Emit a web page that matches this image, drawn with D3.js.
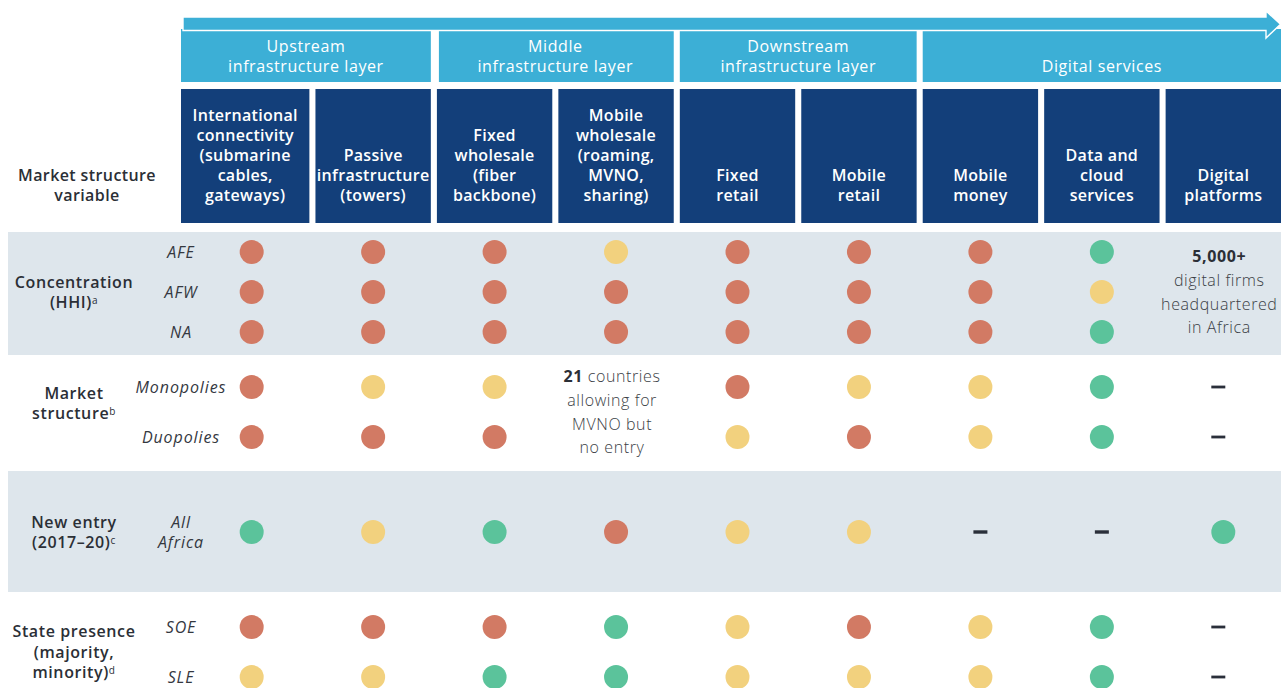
<!DOCTYPE html>
<html>
<head>
<meta charset="utf-8">
<script src="https://cdn.jsdelivr.net/npm/d3@7"></script>
<style>
  html, body { margin: 0; padding: 0; background: #fff; }
  svg { display: block; font-family: "Open Sans", "Noto Sans", sans-serif; }
</style>
</head>
<body>
<svg id="chart" width="1281" height="688"></svg>
<script>
// ---------- DATA ----------
const columnIds = ["intl", "passive", "fixedWh", "mobileWh", "fixedRet", "mobileRet", "money", "cloud", "platforms"];
const columnLabels = [
  ["International", "connectivity", "(submarine", "cables,", "gateways)"],
  ["Passive", "infrastructure", "(towers)"],
  ["Fixed", "wholesale", "(fiber", "backbone)"],
  ["Mobile", "wholesale", "(roaming,", "MVNO,", "sharing)"],
  ["Fixed", "retail"],
  ["Mobile", "retail"],
  ["Mobile", "money"],
  ["Data and", "cloud", "services"],
  ["Digital", "platforms"]
];
const layerLabels = [
  ["Upstream", "infrastructure layer"],
  ["Middle", "infrastructure layer"],
  ["Downstream", "infrastructure layer"],
  ["Digital services"]
];
const layerFirstCol = [0, 2, 4, 6];
const layerLastCol = [1, 3, 5, 8];

const headerLabel = ["Market structure", "variable"];
const groupIds = ["conc", "struct", "entry", "state"];
const groupLabels = [
  [["Concentration", ""], ["(HHI)", "a"]],
  [["Market", ""], ["structure", "b"]],
  [["New entry", ""], ["(2017–20)", "c"]],
  [["State presence", ""], ["(majority,", ""], ["minority)", "d"]]
];
const groupShaded = [true, false, true, false];

const rowIds = ["AFE", "AFW", "NA", "Mono", "Duo", "All", "SOE", "SLE"];
const rowGroup = ["conc", "conc", "conc", "struct", "struct", "entry", "state", "state"];
const rowLabels = [["AFE"], ["AFW"], ["NA"], ["Monopolies"], ["Duopolies"], ["All", "Africa"], ["SOE"], ["SLE"]];
// H = red, M = yellow, L = green, "-" = dash, "T" = covered by a text note
const rowValues = [
  ["H", "H", "H", "M", "H", "H", "H", "L", "T"],
  ["H", "H", "H", "H", "H", "H", "H", "M", "T"],
  ["H", "H", "H", "H", "H", "H", "H", "L", "T"],
  ["H", "M", "M", "T", "H", "M", "M", "L", "-"],
  ["H", "H", "H", "T", "M", "H", "M", "L", "-"],
  ["L", "M", "L", "H", "M", "M", "-", "-", "L"],
  ["H", "H", "H", "L", "M", "H", "M", "L", "-"],
  ["M", "M", "L", "L", "M", "M", "M", "L", "-"]
];
const levels = ["H", "M", "L"];
const levelColors = ["#d27a64", "#f2d17e", "#5bc39b"];

const notes = [
  { col: "mobileWh", rows: ["Mono", "Duo"], lines: [[["21", true], [" countries", false]], [["allowing for", false]], [["MVNO but", false]], [["no entry", false]]] },
  { col: "platforms", rows: ["AFE", "NA"], lines: [[["5,000+", true]], [["digital firms", false]], [["headquartered", false]], [["in Africa", false]]] }
];

// ---------- LAYOUT ----------
const W = 1281, H = 688;
const svg = d3.select("#chart");
const lightBlue = "#3cafd6", darkBlue = "#133f7a", shade = "#dee6ec", ink = "#2b2f36";
const FS = 16;

const x = d3.scaleBand().domain(columnIds).range([194, W]).paddingInner(0.05);
const colLeft = i => i === 0 ? 181 : x(columnIds[i]);
const colRight = i => x(columnIds[i]) + x.bandwidth();
const colMid = i => (colLeft(i) + colRight(i)) / 2;

const g = d3.scaleBand().domain(groupIds).range([232, 712]);
const rowY = {};
groupIds.forEach(gid => {
  const ids = rowIds.filter((r, i) => rowGroup[i] === gid);
  const pad = ids.length === 3 ? 0.5 : 0.7;
  const p = d3.scalePoint().domain(ids).range([g(gid), g(gid) + g.bandwidth()]).padding(pad);
  ids.forEach(id => rowY[id] = ids.length === 1 ? g(gid) + g.bandwidth() / 2 : p(id));
});

// ---------- BACKGROUND BANDS ----------
svg.append("g").selectAll("rect").data(groupIds.filter((d, i) => groupShaded[i])).join("rect")
  .attr("x", 8).attr("width", W - 8)
  .attr("y", d => g(d) + (d === "conc" ? 0 : -1)).attr("height", d => g.bandwidth() + (d === "conc" ? 3 : 1))
  .attr("fill", shade);

// ---------- LAYER HEADERS ----------
const layerTop = 29, layerBottom = 82;
const lg = svg.append("g");
lg.selectAll("rect").data(layerLabels).join("rect")
  .attr("x", (d, i) => colLeft(layerFirstCol[i]) + (i === 1 ? 2 : 0))
  .attr("width", (d, i) => colRight(layerLastCol[i]) - colLeft(layerFirstCol[i]) - (i === 1 ? 2 : 0))
  .attr("y", layerTop).attr("height", layerBottom - layerTop)
  .attr("fill", lightBlue);

// arrow
const ax0 = 183, ax1 = x.range()[1] - 15, axTip = W, ay0 = 17, ay1 = 30.5;
svg.append("path")
  .attr("d", `M${ax0},${ay0}H${ax1}V11L${axTip - 0.5},${(ay0 + ay1) / 2 + 0.5}L${ax1},38V${ay1}H${ax0}Z`)
  .attr("fill", lightBlue).attr("stroke", "#fff").attr("stroke-width", 1.4).attr("stroke-linejoin", "miter");

lg.selectAll("text").data(layerLabels).join("text")
  .attr("text-anchor", "middle").attr("fill", "#fff").attr("font-size", FS).attr("font-weight", 500)
  .attr("letter-spacing", 0.6)
  .attr("x", (d, i) => (colLeft(layerFirstCol[i]) + colRight(layerLastCol[i])) / 2)
  .each(function(d) {
    const t = d3.select(this);
    d.forEach((line, k) => t.append("tspan").attr("x", t.attr("x"))
      .attr("y", 66 - (d.length - 1 - k) * 20).attr("dy", "0.36em").text(line));
  });

// ---------- COLUMN HEADERS ----------
const colTop = 89, colBottom = 223;
const cg = svg.append("g");
cg.selectAll("rect").data(columnIds).join("rect")
  .attr("x", (d, i) => colLeft(i)).attr("width", (d, i) => colRight(i) - colLeft(i))
  .attr("y", colTop).attr("height", colBottom - colTop).attr("fill", darkBlue);
cg.selectAll("text").data(columnLabels).join("text")
  .attr("text-anchor", "middle").attr("fill", "#fff").attr("font-size", FS).attr("font-weight", 600)
  .attr("letter-spacing", 0.3)
  .attr("x", (d, i) => colMid(i))
  .each(function(d) {
    const t = d3.select(this);
    d.forEach((line, k) => t.append("tspan").attr("x", t.attr("x"))
      .attr("y", 195 - (d.length - 1 - k) * 20).attr("dy", "0.36em").text(line));
  });

// header left
svg.append("text").attr("text-anchor", "middle").attr("fill", ink).attr("font-size", FS).attr("font-weight", 600)
  .attr("letter-spacing", 0.4)
  .attr("x", 87)
  .each(function() {
    const t = d3.select(this);
    headerLabel.forEach((line, k) => t.append("tspan").attr("x", 87)
      .attr("y", 195 - (headerLabel.length - 1 - k) * 20).attr("dy", "0.36em").text(line));
  });

// ---------- GROUP LABELS ----------
const grp = svg.append("g");
groupIds.forEach((gid, i) => {
  const lines = groupLabels[i];
  const lh = 20.5;
  const cy = g(gid) + g.bandwidth() / 2 - (gid === "struct" ? 9 : 0);
  const t = grp.append("text").attr("text-anchor", "middle").attr("fill", ink)
    .attr("font-size", FS).attr("font-weight", 600).attr("letter-spacing", 0.6);
  lines.forEach((ln, k) => {
    t.append("tspan").attr("x", 74).attr("y", cy + (k - (lines.length - 1) / 2) * lh).attr("dy", "0.36em").text(ln[0]);
    if (ln[1]) t.append("tspan").attr("font-size", 10).attr("font-weight", 500).attr("baseline-shift", "40%").text(ln[1]);
  });
});

// ---------- ROW LABELS ----------
svg.append("g").selectAll("text").data(rowIds).join("text")
  .attr("text-anchor", "middle").attr("fill", "#34383f").attr("font-size", FS)
  .attr("font-style", "italic").attr("font-weight", 400).attr("letter-spacing", 0.9)
  .each(function(d, i) {
    const t = d3.select(this);
    const lines = rowLabels[i];
    lines.forEach((line, k) => t.append("tspan").attr("x", 181)
      .attr("y", rowY[d] + (k - (lines.length - 1) / 2) * 20).attr("dy", "0.36em").text(line));
  });

// ---------- CELLS ----------
const color = d3.scaleOrdinal().domain(levels).range(levelColors);
const cells = [];
rowIds.forEach((r, i) => rowValues[i].forEach((v, j) => cells.push({ row: r, col: j, v })));

svg.append("g").selectAll("circle").data(cells.filter(c => levels.includes(c.v))).join("circle")
  .attr("cx", d => x(columnIds[d.col]) + x.bandwidth() / 2)
  .attr("cy", d => rowY[d.row])
  .attr("r", 12)
  .attr("fill", d => color(d.v));

svg.append("g").selectAll("rect").data(cells.filter(c => c.v === "-")).join("rect")
  .attr("x", d => x(columnIds[d.col]) + x.bandwidth() / 2 - 7 - (d.col === 8 ? 5 : 0))
  .attr("y", d => rowY[d.row] - (d.row === "All" ? 1.7 : 1.4))
  .attr("width", 14).attr("height", d => d.row === "All" ? 3.4 : 2.8)
  .attr("fill", "#2a2f3a");

// ---------- NOTES ----------
notes.forEach(n => {
  const cx = x(n.col) + x.bandwidth() / 2 - 4;
  const cy = (rowY[n.rows[0]] + rowY[n.rows[n.rows.length - 1]]) / 2;
  const lh = 23.8;
  const t = svg.append("text").attr("text-anchor", "middle").attr("fill", "#3a3e45")
    .attr("font-size", FS).attr("letter-spacing", 0.6);
  n.lines.forEach((ln, k) => {
    const y = cy + (k - (n.lines.length - 1) / 2) * lh;
    ln.forEach((seg, s) => {
      const ts = t.append("tspan").text(seg[0])
        .attr("font-weight", seg[1] ? 700 : 300)
        .attr("fill", seg[1] ? ink : "#3a3e45");
      if (s === 0) ts.attr("x", cx).attr("y", y).attr("dy", "0.36em");
    });
  });
});
</script>
</body>
</html>
